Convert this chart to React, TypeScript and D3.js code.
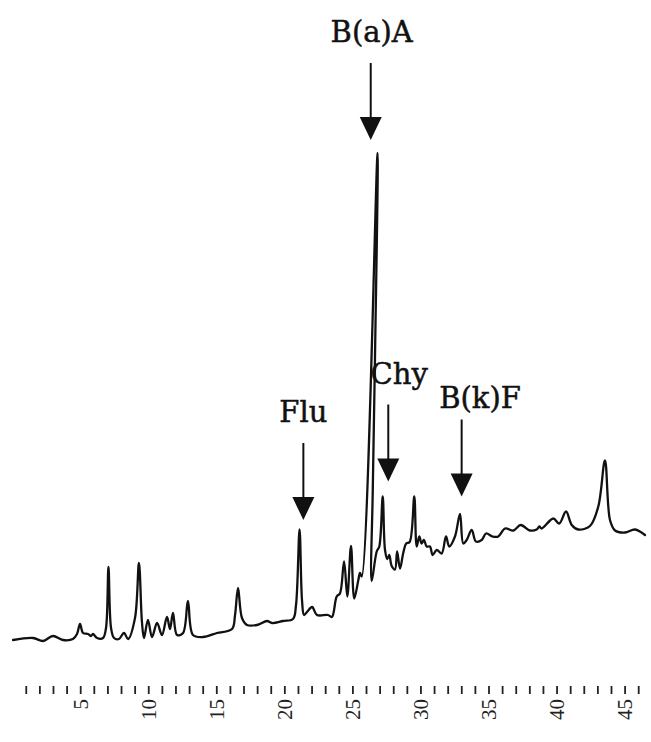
import React from "react";
import * as d3 from "d3";

// Retention time (min) of each trace vertex, in drawing order.
const times = [
  0.03, 1.5, 2.23, 2.96, 3.7, 4.43, 4.73, 4.95, 5.17, 5.54,
  5.76, 5.9, 6.2, 6.64, 6.86, 7.04, 7.23, 7.45, 7.81, 8.18,
  8.48, 8.99, 9.28, 9.5, 9.65, 9.94, 10.24, 10.61, 10.97, 11.34,
  11.56, 11.78, 12.08, 12.52, 12.88, 13.25, 13.99, 15.01, 16.12, 16.34,
  16.56, 16.85, 17.22, 17.95, 18.69, 19.06, 19.86, 20.6, 20.82, 21.08,
  21.26, 21.41, 21.63, 22.0, 22.36, 23.17, 23.46, 23.81, 24.05, 24.35,
  24.59, 24.86, 25.1, 25.4, 25.52, 25.65, 26.81, 26.62, 26.46, 26.38,
  26.75, 26.94, 27.19, 27.36, 27.53, 27.67, 27.85, 28.09, 28.25, 28.46,
  28.7, 28.92, 29.17, 29.51, 29.69, 29.88, 30.05, 30.22, 30.42, 30.66,
  30.86, 31.16, 31.52, 31.84, 32.08, 32.5, 32.87, 33.11, 33.36, 33.73,
  34.04, 34.46, 34.78, 35.27, 35.68, 36.18, 36.79, 37.33, 38.01, 38.5,
  38.7, 38.87, 39.72, 40.16, 40.66, 41.08, 41.56, 42.42, 43.03, 43.52,
  43.89, 44.26, 44.99, 45.73, 46.46,
];

// Detector response (arbitrary units) at each vertex.
const signal = [
  0.2, 0.6, 0.0, 1.0, 0.2, 0.4, 1.4, 3.4, 1.6, 1.4,
  1.0, 1.4, 0.6, 0.6, 2.6, 14.8, 2.6, 0.6, 0.4, 1.6,
  0.4, 4.6, 15.6, 3.8, 0.6, 4.2, 0.8, 3.6, 1.2, 4.8,
  2.4, 5.6, 1.2, 1.6, 8.0, 1.2, 0.8, 1.6, 2.4, 5.2,
  10.6, 4.6, 3.2, 3.2, 4.0, 3.6, 4.0, 4.4, 7.2, 22.3,
  8.2, 5.2, 5.8, 6.8, 5.2, 5.2, 4.8, 8.9, 9.5, 15.9,
  8.9, 19.0, 8.5, 12.2, 13.6, 12.9, 97.6, 56.2, 30.2, 12.0,
  17.9, 18.9, 28.9, 18.2, 16.4, 17.2, 15.0, 14.3, 17.9, 14.5,
  17.6, 19.5, 19.8, 28.9, 18.9, 20.9, 19.5, 20.2, 18.9, 18.9,
  17.2, 18.2, 17.5, 20.9, 18.9, 20.9, 25.4, 19.5, 20.2, 22.2,
  19.9, 20.2, 21.5, 20.9, 20.9, 22.5, 22.1, 23.2, 22.1, 22.3,
  22.9, 22.5, 24.5, 23.5, 25.9, 23.2, 22.3, 23.0, 26.9, 36.1,
  24.2, 22.1, 21.7, 22.3, 21.2,
];

// Time axis: a tick every minute, numbered every five.
const tickMinutes = d3.range(1, 47);
const tickLabels = [5, 10, 15, 20, 25, 30, 35, 40, 45];

// Identified compounds: where each arrow points and where its name sits.
const compounds = ["B(a)A", "Flu", "Chy", "B(k)F"];
const arrowTime = [26.31, 21.36, 27.6, 32.99];
const arrowTipLevel = [100.2, 24.2, 31.9, 28.9];
const labelTime = [26.38, 21.36, 28.4, 34.34];
const labelLevel = [119.9, 43.9, 51.5, 46.6];

const W = 651;
const H = 742;
const SERIF = "'DejaVu Serif', 'Liberation Serif', serif";
const AXIS_SERIF = "'Liberation Serif', 'DejaVu Serif', serif";

export default function App() {
  const x = d3.scaleLinear().domain([0, 46]).range([12.65, 638.71]);
  const y = d3.scaleLinear().domain([0, 100]).range([641, 141]);

  const trace = d3
    .line<number>()
    .x((_, i) => x(times[i]))
    .y((d) => y(d))
    .curve(d3.curveCatmullRom.alpha(0.5))(signal);

  const shaft = 54;
  const headH = 23;
  const headW = 22;
  const tickTop = 686;
  const tickBottom = 694;
  const labelTop = 699;

  return (
    <svg
      width={W}
      height={H}
      viewBox={`0 0 ${W} ${H}`}
      style={{ position: "absolute", left: 0, top: 0, background: "#fff" }}
    >
      <rect x={0} y={0} width={W} height={H} fill="#fff" />

      <path
        d={trace || ""}
        fill="none"
        stroke="#111"
        strokeWidth={2.3}
        strokeLinejoin="round"
        strokeLinecap="round"
      />

      {compounds.map((name, i) => {
        const ax = x(arrowTime[i]);
        const tip = y(arrowTipLevel[i]);
        const headTop = tip - headH;
        return (
          <g key={name}>
            <line
              x1={ax}
              x2={ax}
              y1={headTop - shaft}
              y2={headTop + 1}
              stroke="#111"
              strokeWidth={2}
            />
            <path
              d={`M${ax - headW / 2},${headTop} L${ax + headW / 2},${headTop} L${ax},${tip} Z`}
              fill="#111"
            />
            <text
              x={x(labelTime[i])}
              y={y(labelLevel[i])}
              textAnchor="middle"
              fontFamily={SERIF}
              fontSize={29}
              fill="#111"
              stroke="#111"
              strokeWidth={0.5}
            >
              {name}
            </text>
          </g>
        );
      })}

      <g>
        {tickMinutes.map((m) => (
          <line
            key={m}
            x1={x(m)}
            x2={x(m)}
            y1={tickTop}
            y2={tickBottom}
            stroke="#222"
            strokeWidth={1.8}
          />
        ))}
        {tickLabels.map((m) => (
          <text
            key={m}
            transform={`translate(${x(m)},${labelTop}) rotate(-90)`}
            textAnchor="end"
            dominantBaseline="central"
            fontFamily={AXIS_SERIF}
            fontSize={21}
            fill="#222"
          >
            {m}
          </text>
        ))}
      </g>
    </svg>
  );
}
